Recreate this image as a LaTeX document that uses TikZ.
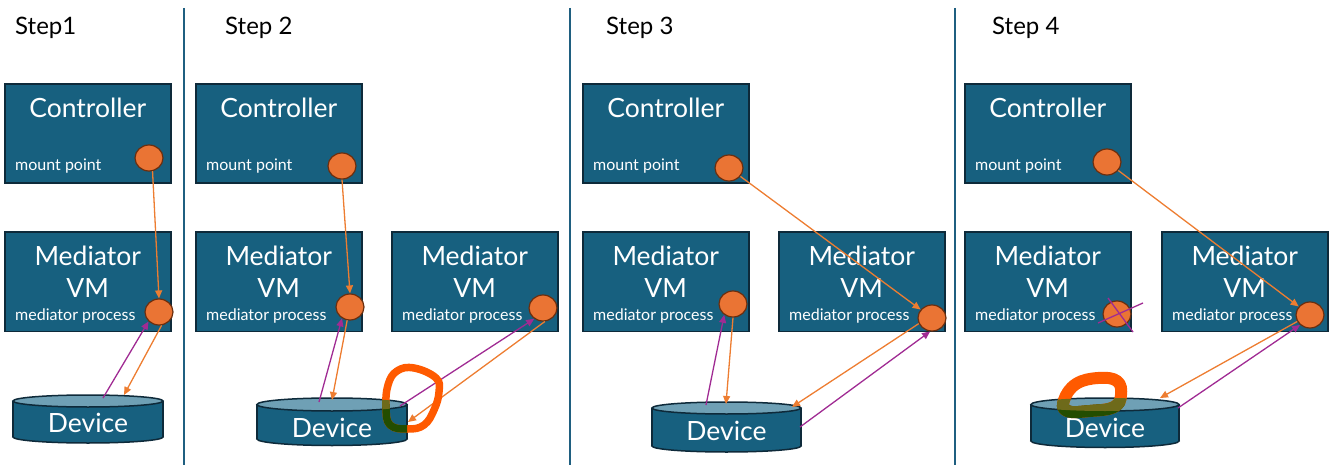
\documentclass[tikz,border=0pt]{standalone}
\usepackage{fontspec}
\setmainfont{Lato}
\usetikzlibrary{shapes.geometric,arrows.meta,calc}
\definecolor{boxblue}{HTML}{17607F}
\definecolor{boxedge}{HTML}{0E2A3A}
\definecolor{lightcyl}{HTML}{6FA0B5}
\definecolor{dotor}{HTML}{EA7434}
\definecolor{dotedge}{HTML}{6B2E0E}
\definecolor{arrowor}{HTML}{ED7D31}
\definecolor{arrowpu}{HTML}{A02B93}
\definecolor{sepcol}{HTML}{1F5F80}
\definecolor{scrib}{HTML}{FF5A00}
\definecolor{scribg}{HTML}{234D00}
\definecolor{scribo}{HTML}{6E6A1A}
\newcommand\devcyl[5]{%
  \fill[boxblue,draw=boxedge,line width=1.5pt] (#1,#4) ellipse [x radius=#2, y radius=#5];
  \fill[boxblue] (#1-#2,#3) rectangle (#1+#2,#4);
  \draw[boxedge,line width=1.5pt] (#1-#2,#3) -- (#1-#2,#4) (#1+#2,#3) -- (#1+#2,#4);
  \fill[lightcyl,draw=boxedge,line width=1.5pt] (#1,#3) ellipse [x radius=#2, y radius=#5];
}
\begin{document}
\begin{tikzpicture}[x=1pt,y=-1pt,
  box/.style={draw=boxedge, line width=1.5pt, fill=boxblue, minimum width=166pt, minimum height=99pt, inner sep=0, anchor=north west},
  bigtxt/.style={text=white, font=\fontsize{26.5}{30}\selectfont, inner sep=0},
  smalltxt/.style={text=white, font=\fontsize{16}{18}\selectfont, inner sep=0, anchor=west},
  steptxt/.style={text=black, font=\fontsize{24}{27}\selectfont, inner sep=0, anchor=west},
  dot/.style={ellipse, draw=dotedge, fill=dotor, line width=1.2pt, minimum width=28pt, minimum height=26pt, inner sep=0},
  oarr/.style={draw=arrowor, line width=1.3pt, -{Triangle[length=8pt,width=7pt]}},
  parr/.style={draw=arrowpu, line width=1.3pt, -{Triangle[length=8pt,width=7pt]}},
  sepline/.style={draw=sepcol, line width=1.8pt},
  scribble/.style={line width=7.5pt, line cap=round, line join=round}
]
\useasboundingbox (0,0) rectangle (1333,465);

% separators
\coordinate (s1t) at (184,8); \coordinate (s1b) at (184,465);
\coordinate (s2t) at (570,8); \coordinate (s2b) at (570,465);
\coordinate (s3t) at (955,8); \coordinate (s3b) at (955,465);
\draw[sepline] (s1t) -- (s1b);
\draw[sepline] (s2t) -- (s2b);
\draw[sepline] (s3t) -- (s3b);

% step titles
\node[steptxt] (t1) at (15,28) {Step1};
\node[steptxt] (t2) at (225,28) {Step 2};
\node[steptxt] (t3) at (606,28) {Step 3};
\node[steptxt] (t4) at (992,28) {Step 4};

% controllers
\foreach \n/\x in {1/4,2/195,3/582,4/964}{
  \node[box] (c\n) at (\x,83.5) {};
  \node[bigtxt] at ($(c\n.north)+(0,24)$) {Controller};
  \node[smalltxt] at ($(c\n.north west)+(11,83)$) {mount point};
}
% mediators
\foreach \n/\x in {1/4,2/195,2b/391,3/582,3b/778,4/964,4b/1161}{
  \node[box] (v\n) at (\x,231.5) {};
  \node[bigtxt] at ($(v\n.north)+(0,24)$) {Mediator};
  \node[bigtxt] at ($(v\n.north)+(0,57)$) {VM};
  \node[smalltxt] at ($(v\n.north west)+(11,84)$) {mediator process};
}

% mount point dots
\node[dot] (m1) at (149,158) {};
\node[dot] (m2) at (342,166) {};
\node[dot] (m3) at (729,168) {};
\node[dot] (m4) at (1107,162) {};
% mediator process dots
\node[dot] (p1) at (159,312) {};
\node[dot] (p2a) at (350,307) {};
\node[dot] (p2b) at (543,308) {};
\node[dot] (p3a) at (733,304) {};
\node[dot] (p3b) at (932,318) {};
\node[dot] (p4a) at (1117,314) {};
\node[dot] (p4b) at (1310,315) {};

% devices
\devcyl{88}{75}{401}{437}{6}
\node[bigtxt] (d1) at (88,423) {Device};
\devcyl{332}{75}{404.5}{439}{6.5}
\node[bigtxt] (d2) at (332,428) {Device};
\devcyl{726.5}{74.5}{408}{446}{6}
\node[bigtxt] (d3) at (726.5,431) {Device};
\devcyl{1105}{74}{404.5}{441}{6.5}
\node[bigtxt] (d4) at (1105,428) {Device};

% device connection points
\coordinate (d1p) at (103,398);
\coordinate (d1o) at (124,395);
\coordinate (d2p) at (319,402);
\coordinate (d2o) at (332,400);
\coordinate (d2q) at (400,406);
\coordinate (d2r) at (408,422);
\coordinate (d3p) at (706,405);
\coordinate (d3o) at (726,404);
\coordinate (d3r) at (792,407);
\coordinate (d3q) at (800,427);
\coordinate (d4r) at (1160,398);
\coordinate (d4q) at (1178,408);

% step 1 arrows
\draw[oarr] (m1.285) -- (p1.north);
\draw[parr] (d1p) -- (p1.222);
\draw[oarr] (p1.281) -- (d1o);
% step 2 arrows
\draw[oarr] (m2.south) -- (p2a.north);
\draw[parr] (d2p) -- (p2a.235);
\draw[oarr] (p2a.258) -- (d2o);
\draw[parr] (d2q) -- (p2b.231);
\draw[oarr] (p2b.278) -- (d2r);
% step 3 arrows
\draw[oarr] (m3) -- (p3b);
\draw[parr] (d3p) -- (p3a.231);
\draw[oarr] (p3a.270) -- (d3o);
\draw[oarr] (p3b.203) -- (d3r);
\draw[parr] (d3q) -- (p3b.262);
% step 4 arrows
\draw[oarr] (m4) -- (p4b);
\draw[oarr] (p4b.207) -- (d4r);
\draw[parr] (d4q) -- (p4b.225);
% cross on p4a
\coordinate (x1a) at (1098,323); \coordinate (x1b) at (1143,303);
\coordinate (x2a) at (1108,298); \coordinate (x2b) at (1133,332);
\draw[arrowpu, line width=1.3pt] (x1a) -- (x1b) (x2a) -- (x2b);

% scribble step 2
\def\scribA{plot[smooth cycle, tension=0.7] coordinates {(397,371) (414,368) (436,378) (439,392) (434,410) (424,425) (408,429) (390,425) (386,407) (388,385)}}
\draw[scrib, scribble] \scribA;
\begin{scope}
  \clip (257,404.5) rectangle (407,445);
  \draw[scribg, scribble] \scribA;
\end{scope}
\begin{scope}
  \clip (332,404.5) ellipse [x radius=75, y radius=6.5];
  \draw[scribo, scribble] \scribA;
\end{scope}
% scribble step 4
\def\scribB{plot[smooth cycle, tension=0.7] coordinates {(1064,400) (1076,384) (1098,378) (1117,381) (1121,395) (1114,407) (1090,411) (1067,411)}}
\draw[scrib, scribble, line width=12pt] \scribB;
\begin{scope}
  \clip (1031,404.5) rectangle (1179,445);
  \draw[scribg, scribble, line width=12pt] \scribB;
\end{scope}
\begin{scope}
  \clip (1105,404.5) ellipse [x radius=74, y radius=6.5];
  \draw[scribo, scribble, line width=12pt] \scribB;
\end{scope}
\end{tikzpicture}
\end{document}
